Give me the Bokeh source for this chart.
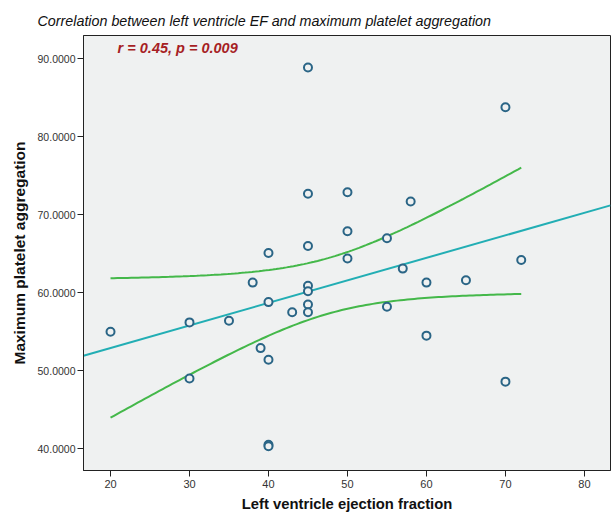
import numpy as np
from bokeh.plotting import figure
from bokeh.models import Label, FixedTicker, NumeralTickFormatter, Range1d
from bokeh.embed import file_html
from bokeh.resources import INLINE

# --- data ---
ejection_fraction = [20, 30, 30, 35, 38, 39, 40, 40, 40, 40, 40, 43,
                     45, 45, 45, 45, 45, 45, 45, 50, 50, 50, 55, 55,
                     57, 58, 60, 60, 65, 70, 70, 72]
max_aggregation = [55.0, 56.2, 49.0, 56.4, 61.3, 52.9, 65.1, 58.8, 51.4, 40.5, 40.3, 57.5,
                   88.9, 72.7, 66.0, 60.9, 60.2, 58.5, 57.5, 72.9, 67.9, 64.4, 67.0, 58.2,
                   63.1, 71.7, 61.3, 54.5, 61.6, 83.8, 48.6, 64.2]
x_ticks = [20, 30, 40, 50, 60, 70, 80]
y_ticks = [40, 50, 60, 70, 80, 90]
title_text = "Correlation between left ventricle EF and maximum platelet aggregation"
stat_text = "r = 0.45, p = 0.009"

FONT = "Liberation Sans"

x = np.array(ejection_fraction, dtype=float)
y = np.array(max_aggregation, dtype=float)

# linear fit and 95% confidence band for the mean
n = len(x)
slope, intercept = np.polyfit(x, y, 1)
resid = y - (intercept + slope * x)
s = np.sqrt(np.sum(resid ** 2) / (n - 2))
sxx = np.sum((x - x.mean()) ** 2)
t_crit = 2.042  # t(0.975, df=30)

x_range = Range1d(16.58, 83.3)
y_range = Range1d(37.2, 93.0)

p = figure(width=611, height=517, x_range=x_range, y_range=y_range,
           output_backend="svg", toolbar_location=None,
           min_border_left=83, min_border_right=1, min_border_top=35, min_border_bottom=47)

p.border_fill_color = "white"
p.background_fill_color = "#eff1f1"
p.outline_line_color = "#222222"
p.outline_line_width = 1
p.xgrid.visible = False
p.ygrid.visible = False

# title
p.title.text = title_text
p.title.align = "left"
p.title.vertical_align = "top"
p.title.offset = -46
try:
    p.title.standoff = 10
except Exception:
    pass
p.title.text_font = FONT
p.title.text_font_size = "14.3px"
p.title.text_font_style = "italic"
p.title.text_color = "#111111"

for ax in (p.xaxis[0], p.yaxis[0]):
    ax.axis_line_color = "#222222"
    ax.major_tick_line_color = "#222222"
    ax.major_tick_in = 0
    ax.major_tick_out = 6
    ax.minor_tick_line_color = None
    ax.major_label_text_font = FONT
    ax.major_label_text_color = "#333333"
    ax.axis_label_text_font = FONT
    ax.axis_label_text_font_style = "bold"
    ax.axis_label_text_color = "#111111"

p.xaxis.axis_label_text_font_size = "14.8px"
p.yaxis.axis_label_text_font_size = "15.5px"
p.xaxis.major_label_text_font_size = "11px"
p.yaxis.major_label_text_font_size = "10.5px"
p.xaxis.ticker = FixedTicker(ticks=x_ticks)
p.yaxis.ticker = FixedTicker(ticks=y_ticks)
p.yaxis.formatter = NumeralTickFormatter(format="0.0000")
p.xaxis.axis_label = "Left ventricle ejection fraction"
p.yaxis.axis_label = "Maximum platelet aggregation"
p.xaxis.major_label_standoff = 3
p.yaxis.major_label_standoff = 2
p.xaxis.axis_label_standoff = 5
p.yaxis.axis_label_standoff = 7

# regression line across the whole frame
xl = np.array([x_range.start, x_range.end])
p.line(xl, intercept + slope * xl, line_color="#22aeb4", line_width=2)

# confidence band curves over the data range
xc = np.linspace(x.min(), x.max(), 120)
yc = intercept + slope * xc
half = t_crit * s * np.sqrt(1.0 / n + (xc - x.mean()) ** 2 / sxx)
p.line(xc, yc + half, line_color="#44b84a", line_width=2)
p.line(xc, yc - half, line_color="#44b84a", line_width=2)

# points
p.scatter(x, y, marker="circle", size=8, fill_color="#eff1f1",
          line_color="#2a6586", line_width=2)

p.add_layout(Label(x=20.9, y=91.45, text=stat_text, text_baseline="middle",
                   text_font=FONT, text_font_size="14.5px", text_font_style="bold italic",
                   text_color="#a61e24"))

open("out.html", "w").write(file_html(p, INLINE))
